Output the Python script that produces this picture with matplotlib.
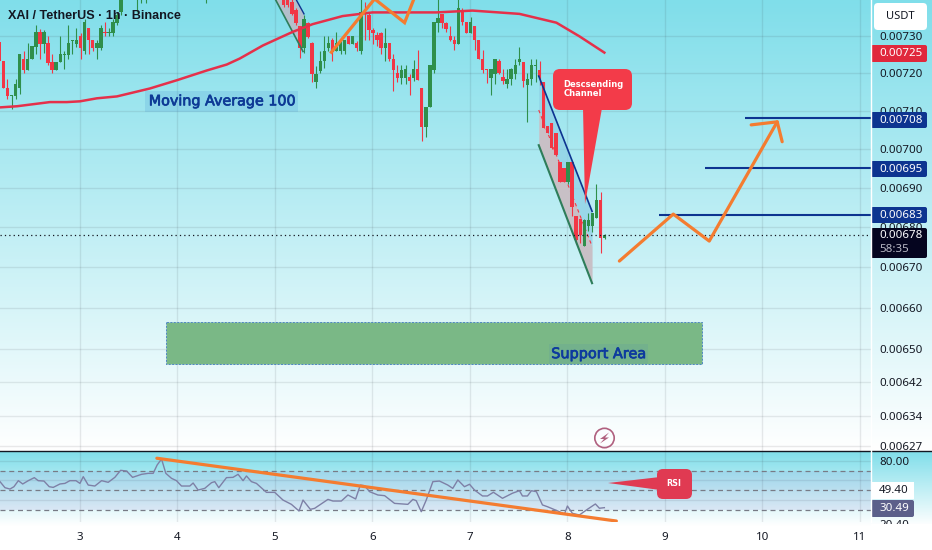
"""
XAI / TetherUS 1h のチャート(TradingView のスクリーンショット)を再現する.
"""
import numpy as np
import matplotlib
matplotlib.use('Agg')
import matplotlib.pyplot as plt
import matplotlib.patheffects as pe
from matplotlib.patches import FancyBboxPatch, Circle, Polygon, Rectangle
from matplotlib.colors import LinearSegmentedColormap

W, H = 932, 550
FONT = 'Noto Sans'

# ローソク足 (価格は 1e-5 単位, hour は 1 本目からの時間数)
candle_hours = list(range(0, 31)) + [34, 35, 36, 51] + list(range(70, 150))
candle_open = [
    728.3, 723.2, 716.1, 713.9, 713.9, 716, 723.8, 720.8, 723.7, 726.9, 731, 727.9, 728.1, 723, 720.8, 723,
    724.8, 724.8, 728.6, 727.9, 730, 725.9, 732.1, 729, 726.8, 726.8, 731.2, 730.8, 730.8, 733.4, 736.5,
    741, 741, 741, 741,
    740.5, 740.5, 739.2, 737, 732.7, 726.8, 733.6, 728.1, 717.5, 720.6, 723.2, 726.8, 728.8, 725.9, 725.9, 725.9,
    729.9, 727.9, 728.1, 725.9, 736.5, 735.6, 731.6, 730.3, 730.8, 726.8, 728.1, 723.8, 720, 718.8, 718.8, 719,
    718.8, 721, 716.1, 705.8, 711.1, 720.7, 733.4, 735.9, 733.4, 730, 729, 727.9, 736.5, 733.8, 730.8, 732.7,
    729, 723.8, 721.2, 718.8, 719.7, 723.2, 719, 717, 718.4, 719.7, 723, 723, 716.8, 718.4, 722, 720.8,
    717.6, 705.9, 706.9, 704.3, 696.6, 695, 691.5, 696.6, 682.9, 682, 675.3, 680.4, 680.4, 682.4, 686.9, 677.3]
candle_close = [
    723.2, 716, 713.9, 714.1, 717.2, 725, 720.8, 723.8, 727.2, 731, 727.9, 731, 722.8, 720.7, 723, 725,
    725, 728.1, 728.8, 728.8, 726.8, 733.8, 728.8, 726.8, 728.1, 732.1, 730.8, 731, 733.8, 735.6, 740.5,
    742, 742, 742, 742,
    738.3, 738.3, 736.1, 733.5, 726.8, 734.7, 729.7, 719.7, 719.7, 723.2, 725.9, 728.1, 725.6, 728.1, 728.1, 728.8,
    727.9, 729.9, 726.8, 736.5, 736.1, 731.6, 730.8, 728.8, 726.8, 728.1, 723.7, 720.8, 718.8, 720.8, 721, 717.9,
    721, 718.1, 705.8, 711.1, 722.2, 733.8, 735, 733.4, 731.8, 728.8, 727.9, 737.7, 733.8, 730.8, 733.8, 728.8,
    723.7, 720.8, 720.8, 721, 723.8, 720, 717.9, 718.4, 721, 722.2, 723.8, 717.9, 718.4, 722.2, 722.2, 719,
    705.6, 704.3, 700.3, 698.4, 691.5, 691.5, 696.6, 685, 676.7, 678, 681.8, 681.8, 683.7, 686.9, 677.3, 678]
candle_high = [
    728.3, 723.2, 718.4, 714.1, 718.4, 725, 725.9, 728.1, 727.2, 733, 731.9, 731.6, 730, 725, 723, 730,
    725.9, 733, 728.8, 732.1, 730.8, 734.5, 732.1, 729, 729, 733, 733.8, 732.1, 734.7, 736.5, 741,
    743, 743, 743, 743,
    741, 741, 740.5, 737.5, 732.7, 735.6, 733.8, 728.3, 721.9, 725.9, 729.9, 729.9, 729.4, 731, 728.5, 728.8,
    730, 730, 728.5, 741, 739.2, 736.5, 732.1, 731.2, 731, 732.1, 728.1, 725, 722.3, 722.3, 722.1, 719.7,
    723.4, 726.1, 716.1, 711.1, 722.2, 733.8, 741, 735.9, 733.8, 732.7, 730, 741, 737.7, 733.8, 735.2, 732.7,
    729, 726.3, 721.2, 721, 723.8, 723.8, 721.2, 721, 721.5, 723.7, 727, 723, 720, 723.8, 723.8, 723.2,
    717.6, 705.9, 706.9, 704.3, 696.6, 695, 696.6, 696.6, 682.9, 682, 682, 683.7, 683.7, 691, 688.9, 678.3]
candle_low = [
    723.2, 716, 713.2, 710.4, 713.2, 714.4, 720.1, 720.8, 723.7, 725, 723.8, 725.3, 722.2, 720.1, 720.8, 723,
    721, 723.8, 725, 727, 723.8, 725, 725, 725.9, 723.8, 726.1, 730, 730, 730, 733, 735.6,
    736.5, 738.9, 738.9, 739,
    738, 738, 735.6, 733, 724.1, 725.4, 729.4, 717.5, 716.1, 720.1, 721.5, 725.9, 723.2, 725.9, 725, 725,
    727.9, 727.9, 725.9, 725, 729, 729, 727.7, 727.2, 725, 723.2, 723.2, 715.3, 717.5, 717, 717, 714.1,
    717.9, 718.1, 702, 703.1, 711.1, 720, 731.2, 732.1, 731, 728.5, 726.1, 727.9, 733, 730.8, 730.8, 726.1,
    723.7, 720, 717.3, 714.1, 717, 719.7, 717, 716.1, 716.8, 718.4, 722.2, 716.4, 707, 716.8, 717.5, 716.8,
    705.6, 704.3, 700, 698.4, 691.5, 691.5, 691, 682.9, 675.8, 676, 675.3, 679, 678.8, 682.4, 673.5, 677]

# 移動平均(100)
ma_days = [2.18, 2.354, 2.692, 2.866, 3.0, 3.174, 3.379, 3.717, 3.994, 4.301, 4.506, 4.639, 4.875, 5.049,
           5.182, 5.387, 5.694, 6.0, 6.41, 6.657, 7.026, 7.508, 7.887, 8.123, 8.379]
ma_values = [710.9, 711.2, 712.3, 712.3, 712.5, 713.3, 713.8, 715.9, 718.1, 720.7, 722.3, 723.9, 727.4, 729.5,
             731.1, 733.2, 735.4, 736.4, 736.4, 736.4, 736.9, 736, 733.6, 729.9, 725.5]

# RSI
rsi_days = [2.18, 2.231, 2.282, 2.323, 2.368, 2.413, 2.47, 2.532, 2.572, 2.631, 2.685, 2.726, 2.795, 2.846,
            2.897, 2.959, 3.0, 3.034, 3.085, 3.153, 3.222, 3.29, 3.358, 3.417, 3.478, 3.54, 3.632, 3.7, 3.751,
            3.792, 3.837, 3.881, 3.939, 3.99, 4.042, 4.127, 4.161, 4.212, 4.28, 4.349, 4.383, 4.424, 4.503,
            4.57, 4.622, 4.673, 4.708, 4.759, 4.81, 4.913, 4.998, 5.083, 5.169, 5.247, 5.288, 5.363, 5.407,
            5.544, 5.595, 5.681, 5.749, 5.828, 5.876, 5.92, 5.971, 6.056, 6.125, 6.227, 6.363, 6.415, 6.449,
            6.501, 6.552, 6.62, 6.688, 6.773, 6.824, 6.876, 6.893, 6.944, 6.996, 7.047, 7.129, 7.18, 7.241,
            7.334, 7.436, 7.508, 7.539, 7.59, 7.631, 7.682, 7.744, 7.795, 7.918, 7.969, 8.0, 8.051, 8.123,
            8.205, 8.287, 8.328, 8.379]
rsi_values = [58.8, 52.6, 51.2, 53.6, 59.8, 56.4, 59.8, 62.9, 59.8, 59.4, 53.6, 52.9, 56.4, 57,
              59.8, 59.8, 57, 63.9, 55.3, 54.3, 59.8, 58.1, 63.2, 70.4, 69.7, 63.2, 66.3, 67.3, 67.3,
              75.9, 82, 67.3, 62.2, 59.8, 54.3, 54.3, 57.4, 50.2, 51.9, 57.7, 58.8, 52.6, 62.9,
              63.2, 66.3, 59.8, 64.6, 58.8, 57, 47.8, 47.8, 39.9, 35.5, 28.7, 39.9, 30.4, 31.4,
              40.6, 38.9, 38.9, 45.1, 41, 55.3, 54.6, 48.5, 45.1, 44.4, 36.5, 35.5, 40.6, 39.3,
              28, 39.9, 58.8, 59.4, 55.3, 51.9, 60.5, 58.8, 53.6, 56.1, 50.2, 44.1, 44.1, 47.9,
              41.7, 46.9, 49.5, 44.1, 44.1, 49.5, 48.5, 34.9, 33.1, 28, 25.3, 33.8, 26.3, 24.6,
              30.4, 35.9, 31.5, 32.1]
rsi_trend_days = [3.789, 8.502]
rsi_trend_values = [82.8, 18.4]

# 手描きのオレンジ線
zigzag_days = [5.579, 6.022, 6.33, 6.43]
zigzag_values = [725.6, 740.1, 733.6, 740.4]
forecast_days = [8.533, 9.086, 9.455, 10.152]
forecast_values = [671.5, 683.3, 676.5, 707.1]
arrow_days = [9.885, 10.152, 10.203]
arrow_values = [706.3, 707.1, 701.9]

# 目標価格の水平線
level_values = [708, 695, 683]
level_starts = [9.823, 9.413, 8.943]
last_price = 678

# サポートゾーン
zone_days = [3.881, 9.383]
zone_values = [646.3, 656.4]

# 下降チャネル
channel_days = [7.706, 8.253]
channel_top = [719.2, 684]
channel_mid = [710.2, 675.2]
channel_bottom = [701, 666]
old_channel_days = [5.008, 5.22, 5.298, 5.288]
old_channel_values = [739.8, 739.8, 736, 725.8]

# 軸
price_ticks = [730, 720, 710, 700, 690, 680, 670, 660, 650, 642, 634, 627]
day_ticks = [3, 4, 5, 6, 7, 8, 9, 10, 11]
rsi_ticks = [80, 60, 40]
rsi_levels = [70, 50, 30]

GREEN = '#2f8f4b'
RED = '#f23645'
NAVY = '#0d3490'
ORANGE = '#f47c30'
INK = '#131722'

fig = plt.figure(figsize=(W / 100, H / 100), dpi=100)


def pane(top, bottom, right=871):
    # ピクセル位置から axes を作る
    return fig.add_axes([0, 1 - bottom / H, right / W, (bottom - top) / H])


# 背景のグラデーション
fade = LinearSegmentedColormap.from_list('fade', ['#80deea', '#ffffff'])
bg = fig.add_axes([0, 0, 1, 1], zorder=0)
bg.set_xlim(0, W)
bg.set_ylim(H, 0)
bg.axis('off')
grad = np.linspace(0, 1, 256).reshape(-1, 1)
bg.imshow(grad, cmap=fade, extent=[0, W, 451, 0], aspect='auto')
bg.imshow(grad, cmap=fade, extent=[0, W, 526, 451], aspect='auto')
bg.set_xlim(0, W)
bg.set_ylim(H, 0)

# 価格チャート
ax = pane(0, 451)
ax.set_zorder(1)
ax.patch.set_alpha(0)
ax.set_yscale('log')
ax.set_xlim(2.18, 11.114)
ax.set_ylim(625.8e-5, 739.8e-5)

x = 2.173 + np.array(candle_hours) / 24
o = np.array(candle_open) * 1e-5
c = np.array(candle_close) * 1e-5
hi = np.array(candle_high) * 1e-5
lo = np.array(candle_low) * 1e-5
colors = [GREEN if b >= a else RED for a, b in zip(o, c)]

ax.grid(True, color='#2a2e39', alpha=0.1, lw=1)
ax.set_axisbelow(True)

ax.fill(old_channel_days, np.array(old_channel_values) * 1e-5, color='#b9bcc8', alpha=0.9, lw=0, zorder=1.5)
ax.plot(old_channel_days[1:3], np.array(old_channel_values[1:3]) * 1e-5, color=NAVY, lw=1, zorder=3)
ax.plot([old_channel_days[0], old_channel_days[3]], np.array([old_channel_values[0], old_channel_values[3]]) * 1e-5,
        color='#2e7d5a', lw=1.2, zorder=3)

top = np.array(channel_top) * 1e-5
mid = np.array(channel_mid) * 1e-5
bot = np.array(channel_bottom) * 1e-5
ax.fill_between(channel_days, mid, top, color='#8fd0e6', alpha=0.75, lw=0, zorder=1.5)
ax.fill_between(channel_days, bot, mid, color='#c8c0c6', lw=0, zorder=1.5)
ax.plot(channel_days, top, color=NAVY, lw=1.2, zorder=3)
ax.plot(channel_days, bot, color='#2e7d5a', lw=1.5, zorder=3)
ax.plot(channel_days, mid, color=RED, lw=0.8, ls=(0, (3, 3)), zorder=2)

ax.vlines(x, lo, hi, colors=colors, lw=0.8, zorder=2.2)
ax.bar(x, np.abs(c - o), bottom=np.minimum(o, c), width=0.035, color=colors, lw=0, zorder=2.3)

ax.plot(ma_days, np.array(ma_values) * 1e-5, color='#e5304a', lw=1.8, zorder=3)
ax.plot(zigzag_days, np.array(zigzag_values) * 1e-5, color=ORANGE, lw=2.3, zorder=3.5, solid_joinstyle='miter')
ax.plot(forecast_days, np.array(forecast_values) * 1e-5, color=ORANGE, lw=2.3, zorder=3.5, solid_capstyle='round')
ax.plot(arrow_days, np.array(arrow_values) * 1e-5, color=ORANGE, lw=2.3, zorder=3.5, solid_capstyle='round')

for value, start in zip(level_values, level_starts):
    ax.hlines(value * 1e-5, start, ax.get_xlim()[1], color=NAVY, lw=1.5, zorder=3)
ax.axhline(last_price * 1e-5, color=INK, lw=0.9, ls=(0, (1, 2.5)), zorder=3)

ax.fill_between(zone_days, zone_values[0] * 1e-5, zone_values[1] * 1e-5, facecolor='#7ab886',
                edgecolor='#4f86c6', lw=0.7, ls=(0, (2, 1.5)), zorder=2)
thick = [pe.withStroke(linewidth=0.5, foreground='#0d3a9a')]
ax.text(8.317, 648.7e-5, 'Support Area', color='#0d3aa0', fontsize=10.4, family='DejaVu Sans', ha='center',
        va='center', zorder=4, path_effects=thick,
        bbox=dict(facecolor='#5f9ea0', alpha=0.25, edgecolor='none', pad=2))
ax.text(4.455, 712.5e-5, 'Moving Average 100', color='#0d3a94', fontsize=10.3, family='DejaVu Sans', ha='center',
        va='center', zorder=4, path_effects=thick,
        bbox=dict(facecolor='#5aa6d8', alpha=0.25, edgecolor='none', pad=2.5))

ax.yaxis.tick_right()
ax.set_yticks([v * 1e-5 for v in price_ticks])
ax.set_yticklabels(['%.5f' % (v * 1e-5) for v in price_ticks], fontsize=8.3, color=INK, family=FONT)
ax.yaxis.set_minor_locator(plt.NullLocator())
ax.xaxis.set_minor_locator(plt.NullLocator())
ax.set_xticks(day_ticks)
ax.tick_params(axis='x', labelbottom=False, length=0)
ax.tick_params(axis='y', length=0, pad=6)
for s in ax.spines.values():
    s.set_visible(False)

# RSI
rsi = pane(452, 522)
rsi.set_zorder(1)
rsi.patch.set_alpha(0)
rsi.set_xlim(2.18, 11.114)
rsi.set_ylim(17.4, 89.2)
rsi.axhspan(rsi_levels[-1], rsi_levels[0], color='#7e57c2', alpha=0.1, lw=0)
rsi.grid(True, color='#2a2e39', alpha=0.1, lw=1)
rsi.set_axisbelow(True)
for level in rsi_levels:
    rsi.axhline(level, color='#787b86', lw=0.9, ls=(0, (4, 3)))
rsi.plot(rsi_days, rsi_values, color='#7e80a6', lw=1)
rsi.plot(rsi_trend_days, rsi_trend_values, color=ORANGE, lw=2.3, solid_capstyle='round')
rsi.yaxis.tick_right()
rsi.set_yticks(rsi_ticks)
rsi.set_yticklabels(['80.00', '', ''], fontsize=8.3, color=INK, family=FONT)
rsi.set_xticks(day_ticks)
rsi.set_xticklabels([str(d) for d in day_ticks], fontsize=8.3, color=INK, family=FONT)
rsi.tick_params(axis='y', length=0, pad=6)
rsi.tick_params(axis='x', length=0, pad=7)
for s in rsi.spines.values():
    s.set_visible(False)

# 注釈やバッジはピクセル座標の axes に描く
over = fig.add_axes([0, 0, 1, 1], zorder=5)
over.set_xlim(0, W)
over.set_ylim(H, 0)
over.axis('off')
over.plot([0, W], [451, 451], color=INK, lw=1)
over.plot([871, 871], [0, 451], color='white', lw=1)
over.plot([871, 871], [452, 522], color='white', lw=1)


def badge(x0, x1, y0, y1, color, radius=2):
    over.add_patch(FancyBboxPatch((x0 + 1, y0 + 1), x1 - x0 - 2, y1 - y0 - 2,
                                  boxstyle='round,pad=1,rounding_size=%d' % radius,
                                  facecolor=color, edgecolor='none'))


def label(x0, y, text, color='white', size=8.3, weight='normal', ha='left', family=FONT):
    over.text(x0, y, text, color=color, fontsize=size, family=family, va='center', ha=ha, weight=weight)


badge(874, 927, 3, 30, 'white', radius=4)
label(900.5, 16.5, 'USDT', color=INK, size=8, ha='center')

badge(871, 927, 45, 62, '#e0283c')
label(879, 53.5, '0.00725')
for value, y0 in zip(level_values, [112, 161, 207]):
    badge(871, 927, y0, y0 + 16, NAVY)
    label(879, y0 + 8.3, '%.5f' % (value * 1e-5))
badge(871, 927, 228, 258, '#05051f')
label(879, 236, '0.00678')
label(879, 250, '58:35', color='#b8b8c4')

over.add_patch(Rectangle((871, 482), 43, 17, facecolor='white', edgecolor='none'))
label(879, 490.7, '49.40', color=INK)
badge(871, 914, 500, 517, '#5c5f8a')
label(879, 508.7, '30.49')
# 下端で切れている目盛りラベル
label(879, 526, '20.40', color=INK)
over.add_patch(Rectangle((871, 523.5), 61, 12, facecolor='white', edgecolor='none', zorder=4))

label(8, 16, 'XAI / TetherUS · 1h · Binance', color=INK, size=9.1, weight='bold', family='Liberation Sans')

# 吹き出し
over.add_patch(Polygon([(583, 108), (602, 108), (585, 204)], facecolor='#f33b49', edgecolor='none'))
badge(553, 632, 69, 110, '#f33b49', radius=7)
over.text(563.5, 84.5, 'Descsending', color='white', fontsize=6, weight='bold', family='DejaVu Sans', va='center')
over.text(563.5, 93.5, 'Channel', color='white', fontsize=6, weight='bold', family='DejaVu Sans', va='center')

over.add_patch(Polygon([(608, 483), (660, 477), (660, 490)], facecolor='#e03a52', edgecolor='none'))
over.add_patch(FancyBboxPatch((661, 473), 27, 22, boxstyle='round,pad=4,rounding_size=6', facecolor='#e03a52',
                              edgecolor='none'))
over.text(674, 484, 'RSI', color='white', fontsize=5.8, weight='bold', family='DejaVu Sans', ha='center', va='center')

# 稲妻アイコン
over.add_patch(Circle((604.5, 438), 9.7, facecolor='none', edgecolor='#b0607f', lw=1.2))
over.add_patch(Polygon([(609, 432.5), (600, 439), (604, 439), (600, 443.5), (609, 437.5), (605, 437.5)],
                       facecolor='#b0607f', edgecolor='none'))

fig.savefig('out.png', dpi=100)
